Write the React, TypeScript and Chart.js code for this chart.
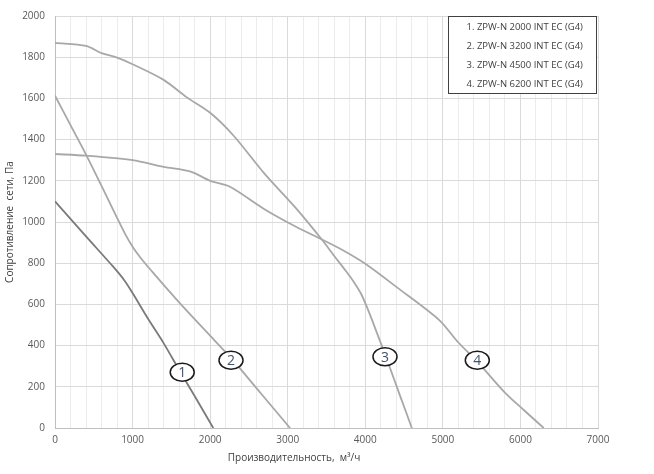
import { useEffect, useRef } from 'react';
import { Chart, registerables } from 'chart.js';

Chart.register(...registerables);

const seriesNames = [
  '1. ZPW-N 2000 INT EC (G4)',
  '2. ZPW-N 3200 INT EC (G4)',
  '3. ZPW-N 4500 INT EC (G4)',
  '4. ZPW-N 6200 INT EC (G4)',
];

const flow1 = [0, 400, 750, 900, 1000, 1200, 1400, 1600, 1800, 2040];
const pressure1 = [1100, 930, 783, 714, 655, 530, 412, 282, 155, 0];

const flow2 = [0, 200, 400, 600, 800, 900, 1000, 1100, 1250, 1400, 1650, 2000, 2270, 2650, 3030];
const pressure2 = [1613, 1470, 1327, 1175, 1020, 945, 880, 828, 760, 695, 589, 448, 339, 170, 0];

const flow3 = [0, 400, 600, 800, 1000, 1400, 1700, 2000, 2300, 2700, 3100, 3440, 3600, 3750, 3850, 3950, 4050, 4150, 4250, 4450, 4600];
const pressure3 = [1870, 1855, 1820, 1798, 1766, 1690, 1605, 1530, 1420, 1235, 1070, 915, 835, 762, 710, 648, 560, 462, 362, 155, 0];

const flow4 = [0, 400, 1000, 1400, 1750, 2000, 2250, 2700, 3100, 3440, 3700, 4000, 4400, 4950, 5200, 5450, 5800, 6050, 6300];
const pressure4 = [1330, 1322, 1300, 1268, 1245, 1200, 1172, 1062, 978, 915, 865, 797, 685, 525, 415, 320, 172, 85, 0];

const curveLabels = ['1', '2', '3', '4'];
const curveLabelFlow = [1640, 2269, 4254, 5444];
const curveLabelPressure = [271, 329, 346, 329];

const xTitle = 'Производительность,  м³/ч';
const yTitle = 'Сопротивление  сети, Па';

const FONT = '"Open Sans", "DejaVu Sans", sans-serif';

const toPoints = (xs: number[], ys: number[]) => xs.map((x, i) => ({ x, y: ys[i] }));

const overlayPlugin = {
  id: 'overlay',
  afterDatasetsDraw(chart: any) {
    const { ctx, chartArea, scales } = chart;
    const xs = scales.x;
    const ys = scales.y;
    ctx.save();
    // circle labels
    for (let i = 0; i < curveLabels.length; i++) {
      const cx = xs.getPixelForValue(curveLabelFlow[i]);
      const cy = ys.getPixelForValue(curveLabelPressure[i]);
      ctx.beginPath();
      ctx.ellipse(cx, cy, 12, 9, 0, 0, Math.PI * 2);
      ctx.fillStyle = '#ffffff';
      ctx.fill();
      ctx.lineWidth = 1.5;
      ctx.strokeStyle = '#1a1a1a';
      ctx.stroke();
      ctx.fillStyle = '#44546a';
      ctx.font = `14px ${FONT}`;
      ctx.textAlign = 'center';
      ctx.textBaseline = 'middle';
      ctx.fillText(curveLabels[i], cx, cy + 1);
    }
    // legend box
    const bw = 148;
    const bh = 77;
    const bx = chartArea.right - bw - 1.5;
    const by = chartArea.top + 0.5;
    ctx.fillStyle = '#ffffff';
    ctx.fillRect(bx, by, bw, bh);
    ctx.lineWidth = 1;
    ctx.strokeStyle = '#404040';
    ctx.strokeRect(bx, by, bw, bh);
    ctx.fillStyle = '#404040';
    ctx.font = `9.5px ${FONT}`;
    ctx.textAlign = 'left';
    ctx.textBaseline = 'middle';
    seriesNames.forEach((n, i) => {
      ctx.fillText(n, bx + 18, by + 10.5 + i * 19);
    });
    // axis titles
    ctx.fillStyle = '#404040';
    ctx.font = `10px ${FONT}`;
    ctx.textAlign = 'center';
    ctx.textBaseline = 'middle';
    ctx.fillText(xTitle, 294, 458);
    ctx.save();
    ctx.translate(10, (chartArea.top + chartArea.bottom) / 2);
    ctx.rotate(-Math.PI / 2);
    ctx.fillText(yTitle, 0, 0);
    ctx.restore();
    ctx.restore();
  },
};

export default function App() {
  const ref = useRef<HTMLCanvasElement | null>(null);
  useEffect(() => {
    if (!ref.current) return;
    const mk = (label: string, xs: number[], ys: number[], color: string) => ({
      label,
      data: toPoints(xs, ys),
      borderColor: color,
      backgroundColor: color,
      borderWidth: 1.8,
      pointRadius: 0,
      tension: 0.3,
      fill: false,
    });
    const chart = new Chart(ref.current, {
      type: 'line',
      data: {
        datasets: [
          mk(seriesNames[0], flow1, pressure1, '#7a7a7a'),
          mk(seriesNames[1], flow2, pressure2, '#a8a8a8'),
          mk(seriesNames[2], flow3, pressure3, '#a8a8a8'),
          mk(seriesNames[3], flow4, pressure4, '#a8a8a8'),
        ],
      },
      options: {
        responsive: false,
        animation: false,
        layout: { padding: { left: 0, top: 15, right: 56, bottom: 0 } },
        plugins: {
          legend: { display: false },
          tooltip: { enabled: false },
        },
        scales: {
          x: {
            type: 'linear',
            min: 0,
            max: 7000,
            afterFit: (s: any) => {
              s.height = 46;
            },
            ticks: {
              stepSize: 200,
              autoSkip: false,
              maxRotation: 0,
              padding: 6,
              color: '#595959',
              font: { family: FONT, size: 10 },
              callback: (v: any) => (Number(v) % 1000 === 0 ? String(v) : ''),
            },
            grid: {
              drawTicks: false,
              color: (c: any) => (c.tick && c.tick.value % 1000 === 0 ? '#dadada' : '#ececec'),
              lineWidth: 1,
            },
            border: { color: '#bfbfbf', width: 1 },
          },
          y: {
            min: 0,
            max: 2000,
            afterFit: (s: any) => {
              s.width = 55;
            },
            ticks: {
              stepSize: 200,
              padding: 10,
              color: '#595959',
              font: { family: FONT, size: 10 },
              callback: (v: any) => String(v),
            },
            grid: {
              drawTicks: false,
              color: '#dadada',
              lineWidth: 1,
            },
            border: { color: '#bfbfbf', width: 1 },
          },
        },
      },
      plugins: [overlayPlugin],
    });
    return () => chart.destroy();
  }, []);
  return (
    <div style={{ position: 'fixed', left: 0, top: 0, width: 654, height: 474, background: '#ffffff' }}>
      <canvas ref={ref} width={654} height={474} />
    </div>
  );
}
